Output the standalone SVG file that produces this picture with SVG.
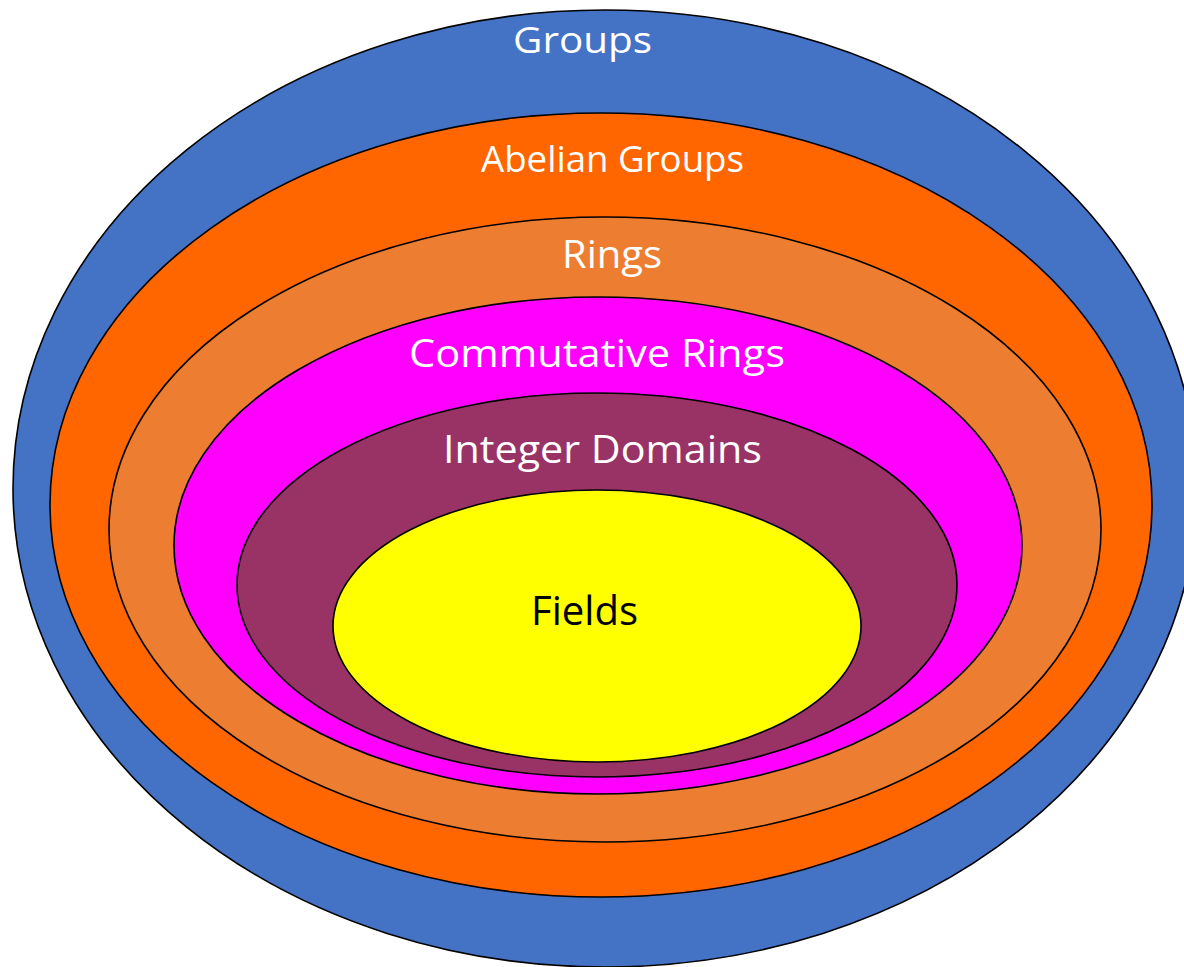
<svg xmlns="http://www.w3.org/2000/svg" width="1184" height="967" viewBox="0 0 1184 967">
  <style>
    .ring { stroke: #000000; stroke-width: 1.6; }
    .label { font-family: "Open Sans", "Liberation Sans", sans-serif; text-anchor: middle; fill: #ffffff; }
    .dark { fill: #000000; }
  </style>
  <rect x="0" y="0" width="1184" height="967" fill="#ffffff"/>

  <!-- nested algebraic structures, outermost first -->
  <g id="groups">
    <ellipse class="ring" cx="605" cy="488.5" rx="592" ry="478.5" fill="#4472C4"/>
    <text class="label" x="582.5" y="53" font-size="37" textLength="139" lengthAdjust="spacingAndGlyphs">Groups</text>
  </g>

  <g id="abelian-groups">
    <ellipse class="ring" cx="601" cy="505" rx="551" ry="392" fill="#FF6600"/>
    <text class="label" x="612.5" y="171.5" font-size="36" textLength="263" lengthAdjust="spacingAndGlyphs">Abelian Groups</text>
  </g>

  <g id="rings">
    <ellipse class="ring" cx="605" cy="529.5" rx="496" ry="312.5" fill="#ED7D31"/>
    <text class="label" x="612" y="268" font-size="38" textLength="100" lengthAdjust="spacingAndGlyphs">Rings</text>
  </g>

  <g id="commutative-rings">
    <ellipse class="ring" cx="598" cy="545.5" rx="424" ry="248.5" fill="#FF00FF"/>
    <text class="label" x="597" y="367" font-size="38" textLength="376" lengthAdjust="spacingAndGlyphs">Commutative Rings</text>
  </g>

  <g id="integer-domains">
    <ellipse class="ring" cx="597" cy="585" rx="360" ry="192" fill="#993366"/>
    <text class="label" x="602.5" y="463" font-size="38" textLength="319" lengthAdjust="spacingAndGlyphs">Integer Domains</text>
  </g>

  <g id="fields">
    <ellipse class="ring" cx="597" cy="626" rx="264" ry="136" fill="#FFFF00"/>
    <text class="label dark" x="584.5" y="625" font-size="40" textLength="107" lengthAdjust="spacingAndGlyphs">Fields</text>
  </g>

  <!-- containment is shown by nesting; there are no connector lines -->
  <g id="connectors"/>
</svg>
